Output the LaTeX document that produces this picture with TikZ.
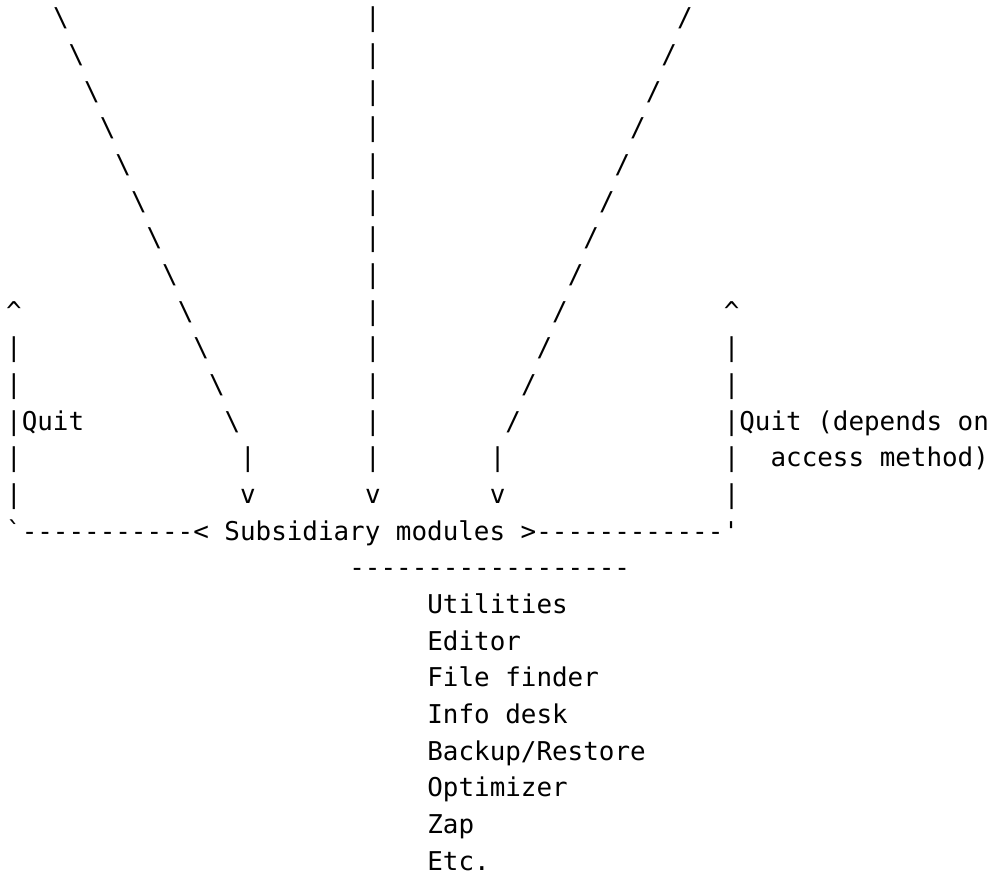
\documentclass[tikz,border=0pt]{standalone}
\usepackage{fontspec}
\setmonofont{DejaVu Sans Mono}
\newcommand\cw{15.6}
\newcommand\lh{36.67}
\tikzset{txt/.style={anchor=base west,inner sep=0pt,outer sep=0pt,
  font=\ttfamily\fontsize{25.9}{30}\selectfont}}
\newcommand\cell[4]{\node[txt] (#1) at ({6.2+\cw*#2},{-26.7-\lh*#3}) {#4};}
\begin{document}
\begin{tikzpicture}[x=1pt,y=1pt]
\useasboundingbox (0,0) rectangle (1000,-877);
% diagonal and vertical strokes from above
\foreach \r in {0,...,11}{
  \pgfmathtruncatemacro\cb{3+\r}
  \pgfmathtruncatemacro\cs{43-\r}
  \cell{bs\r}{\cb}{\r}{\textbackslash}
  \cell{fs\r}{\cs}{\r}{/}
  \cell{vb\r}{23}{\r}{|}
}
\cell{vb12}{23}{12}{|}
\cell{lb12}{15}{12}{|}
\cell{rb12}{31}{12}{|}
\cell{lv}{15}{13}{v}
\cell{cv}{23}{13}{v}
\cell{rv}{31}{13}{v}
% left quit loop
\cell{lup}{0}{8}{\textasciicircum}
\cell{l9}{0}{9}{|}
\cell{l10}{0}{10}{|}
\cell{lquit}{0}{11}{|Quit}
\cell{l12}{0}{12}{|}
\cell{l13}{0}{13}{|}
% right quit loop
\cell{rup}{46}{8}{\textasciicircum}
\cell{r9}{46}{9}{|}
\cell{r10}{46}{10}{|}
\cell{rquit}{46}{11}{|Quit (depends on}
\cell{r12}{46}{12}{|}
\cell{racc}{49}{12}{access method)}
\cell{r13}{46}{13}{|}
% bottom line
\cell{sub}{0}{14}{\textasciigrave-----------< Subsidiary modules >------------\textquotesingle}
\cell{rule}{22}{15}{------------------}
\cell{m1}{27}{16}{Utilities}
\cell{m2}{27}{17}{Editor}
\cell{m3}{27}{18}{File finder}
\cell{m4}{27}{19}{Info desk}
\cell{m5}{27}{20}{Backup/Restore}
\cell{m6}{27}{21}{Optimizer}
\cell{m7}{27}{22}{Zap}
\cell{m8}{27}{23}{Etc.}
\end{tikzpicture}
\end{document}
